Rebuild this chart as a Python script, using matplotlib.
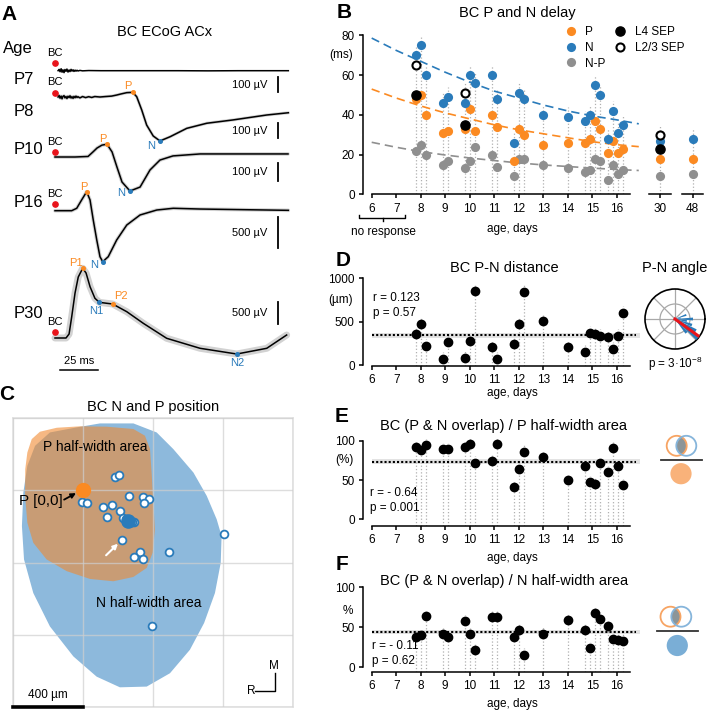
import numpy as np
import matplotlib
matplotlib.use('Agg')
import matplotlib.pyplot as plt
from matplotlib.patches import Polygon, Circle
from matplotlib.lines import Line2D

plt.rcParams['font.family'] = ['Liberation Sans', 'DejaVu Sans']
plt.rcParams['mathtext.fontset'] = 'custom'
plt.rcParams['mathtext.rm'] = 'Liberation Sans'
plt.rcParams['axes.linewidth'] = 1.1

# ------------------------------------------------------------------ data
# Panel A: averaged ECoG traces (time in ms after BC stimulus, voltage in uV)
p7_t = [2, 2.7, 3.3, 4.0, 4.6, 5.2, 5.9, 6.5, 7.2, 7.8, 8.5, 9.2, 9.8, 10.5, 11.1, 11.8,
        12.4, 13.1, 13.7, 14.4, 15.0, 16.3, 18, 22, 30, 40, 60, 80, 100, 120, 140, 152.5]
p7_v = [0, 9, -7, 13, -10, 6, -13, 8, -4, 11, -9, 5, -6, 9, -3, 6,
        -5, 4, -3, 3, -2, 2, -1, 1, 0, 0, 0, 0, -1, 0, 0, 0]
p8_t = [2, 2.7, 3.3, 4.0, 4.6, 5.2, 5.9, 6.5, 7.2, 7.8, 8.5, 9.2, 9.8, 10.5, 11.1, 11.8,
        12.4, 13.1, 13.7, 14.4, 15.0, 16.3, 18, 20, 22, 24, 26, 29.4, 33, 37, 40.3, 43,
        46.9, 50.8, 53.4, 56.7, 59.9, 64.2, 68.6, 75.2, 86.1, 99.2, 116.3, 138.4, 152.5]
p8_v = [0, 10, -8, 6, -12, 4, 9, -6, 3, -10, 5, -4, 8, -7, 2, -9,
        4, -5, 6, -3, 2, -6, 3, -4, 2, -3, 3, 0, 3, 6, 13, 20,
        29, 31, 2, -87, -187, -260, -293, -265, -209, -175, -153, -120, -105]
p10_t = [0, 13.1, 21.6, 24.8, 27.5, 30.7, 34, 37.3, 40.5, 43.8, 49, 55.6, 62.1, 68.6,
         77.1, 94.8, 120.9, 152.3]
p10_v = [0, 0, 3, 28, 50, 66, 71, 28, -56, -139, -189, -167, -72, -17, 6, 17, 17, 17]
p16_t = [0, 10.9, 14.2, 17.4, 20.7, 22.9, 25, 27.3, 29.4, 31.2, 34.8, 40.3, 46.9, 55.6,
         66.5, 77.3, 94.8, 152.5]
p16_v = [0, 0, 39, 173, 306, 173, -150, -473, -742, -823, -742, -473, -231, -69, 11, 39,
         27, 6]
p30_t = [0, 7.2, 9.2, 10.9, 13.1, 15.2, 18.1, 20.3, 22.9, 26.1, 29, 33.8, 37.7, 46.9,
         57.7, 73, 94.8, 118.8, 138.4, 151.4]
p30_v = [0, 0, 91, 477, 1023, 1386, 1584, 1477, 1166, 902, 811, 789, 773, 598, 334, -7,
         -234, -364, -234, 68]
trace_ages = ['P7', 'P8', 'P10', 'P16', 'P30']
trace_bars = ['100 µV', '100 µV', '100 µV', '500 µV', '500 µV']
trace_bar_uv = [100, 100, 100, 500, 500]
peaks_p8 = [('P', 50.8), ('N', 68.6)]
peaks_p10 = [('P', 34), ('N', 49)]
peaks_p16 = [('P', 20.7), ('N', 31.2)]
peaks_p30 = [('P1', 18.1), ('N1', 29), ('P2', 37.7), ('N2', 118.8)]

# Panel B: delays (ms) per recording
ages = [7.8, 8.0, 8.2, 8.9, 9.1, 9.8, 10.0, 10.2, 10.9, 11.1, 11.8, 12.0, 12.2, 13.0,
        14.0, 14.7, 14.9, 15.1, 15.3, 15.65, 15.85, 16.05, 16.25]
p_delay = [48, 50, 40, 31, 32, 33, 43, 32, 40, 34, 17, 33, 30, 25, 26, 26, 28, 37, 33,
           21, 27, 21, 23]
n_delay = [70, 75, 60, 46, 49, 46, 60, 56, 60, 48, 26, 51, 48, 40, 39, 37, 40, 55, 50,
           28, 42, 31, 35]
np_delay = [22, 25, 20, 15, 17, 13, 17, 24, 20, 14, 9, 18, 18, 15, 13, 11, 12, 18, 17,
            7, 15, 10, 12]
sep_ages = [7.8, 9.8]
l4_sep = [50, 35]
l23_sep = [65, 51]
adult_ages = [30, 48]
adult_p = [18, 18]
adult_n = [27, 28]
adult_np = [9, 10]
adult_l4 = [23, None]
adult_l23 = [30, None]
fit_x = [6, 7, 8, 9, 10, 11, 12, 13, 14, 15, 16, 16.9]
fit_n = [78.7, 72.5, 67, 61.5, 56.5, 52, 48.5, 45, 42, 39.5, 37.5, 35.5]
fit_p = [53, 48.5, 44.5, 41, 38, 35, 32.5, 30.5, 28.5, 26.5, 25, 24]
fit_np = [26.2, 23.7, 21.5, 19.8, 18.3, 17, 15.8, 14.8, 14, 13.2, 12.5, 12]

# Panel D
pn_distance = [354, 473, 223, 69, 269, 77, 277, 858, 204, 65, 238, 473, 846, 512, 204,
               146, 365, 354, 338, 319, 181, 338, 604]
dist_mean, dist_sem = 342, 32
angle_bins = [20, 10, 0, -10, -20, -30, -40, -50]
angle_counts = [2, 1, 3, 2, 3, 4, 5, 3]
angle_mean = -36

# Panels E, F
overlap_p = [92, 88, 94.5, 89, 89.5, 91.5, 96, 72, 74, 96, 41, 64.5, 86, 79, 50, 68, 47,
             44.5, 71, 60, 90.5, 68, 43.5]
overlap_n = [38, 40, 64, 41, 38, 57.5, 41, 21, 63, 63, 37.5, 46, 15.5, 42, 59, 47, 24, 68,
             61, 52, 35, 34, 33]
ovp_mean, ovp_sem = 73.3, 3
ovn_mean, ovn_sem = 44.2, 2.5

# Panel C: positions in um relative to P [0,0]
n_pos_x = [183, 208, -6, 21, 112, 166, 139, 211, 227, 265, 341, 375, 349, 293, 225, 326,
           293, 341, 493, 806, 396, 246, 278]
n_pos_y = [76, 85, -65, -72, -94, -80, -146, -115, -154, -30, -35, -46, -72, -176, -274,
           -341, -369, -378, -344, -244, -754, -161, -176]
n_mean = (259, -170)
p_area_x = [-293, -246, -150, -17, 135, 288, 354, 383, 392, 402, 411, 398, 364, 288, 173,
            40, -93, -208, -284, -318, -331, -330, -318]
p_area_y = [283, 324, 346, 354, 352, 339, 302, 228, 98, -69, -217, -346, -430, -480, -504,
            -491, -448, -383, -291, -180, -31, 117, 209]
n_area_x = [-36, 97, 288, 421, 516, 631, 707, 764, 792, 787, 754, 692, 611, 497, 364, 211,
            78, -55, -189, -284, -337, -349, -341, -318, -274, -189]
n_area_y = [348, 370, 370, 320, 228, 98, -31, -161, -254, -402, -569, -735, -883, -1013,
            -1087, -1091, -1032, -920, -754, -569, -383, -198, -13, 135, 246, 320]

# ------------------------------------------------------------------ style
W, H = 709, 713
fig = plt.figure(figsize=(W / 100, H / 100), dpi=100)

ORANGE = '#fb8a22'
BLUE = '#2a7bba'
GRAY = '#8f8f8f'
RED = '#e8141b'
VDOT = '#b0b0b0'
FS = 8.5
TFS = 10.5


def rect(x0, y0, x1, y1):
    return [x0 / W, 1 - y1 / H, (x1 - x0) / W, (y1 - y0) / H]


def ftext(x, y, s, **kw):
    kw.setdefault('ha', 'center')
    kw.setdefault('va', 'center')
    fig.text(x / W, 1 - y / H, s, **kw)


for lbl, x, y in [('A', 9, 14), ('B', 344, 12.5), ('C', 7, 394), ('D', 343, 260),
                  ('E', 342, 417), ('F', 342, 564)]:
    ftext(x, y, lbl, fontsize=15, fontweight='bold')

# ------------------------------------------------------------------ panel A
MS_PX, T0_PX = 1.53, 55
axA = fig.add_axes(rect(0, 40, 300, 380))
axA.set_xlim(-T0_PX / MS_PX, (300 - T0_PX) / MS_PX)
axA.set_ylim(380, 40)
axA.axis('off')

trace_t = [p7_t, p8_t, p10_t, p16_t, p30_t]
trace_v = [p7_v, p8_v, p10_v, p16_v, p30_v]
trace_peaks = [[], peaks_p8, peaks_p10, peaks_p16, peaks_p30]
base_px = [70.7, 97, 157, 210.7, 338]
gain = [0.15, 0.15, 0.18, 0.062, 0.044]
shade_lw = [0, 2.2, 2.6, 2.6, 5]
bc_dot_px = [63.3, 93.3, 152.3, 204, 332]
bc_txt_px = [53, 82, 142, 194, 322]
age_txt_px = [79, 112, 150, 202, 313]
bar_top_px = [77, 123, 163, 217, 302]
peak_offsets_by = [None, {'P': (-5, -6), 'N': (-9, 5)}, {'P': (-4, -5), 'N': (-9, 2)},
                   {'P': (-3, -5), 'N': (-9, 3)},
                   {'P1': (-7, -5), 'N1': (-3, 9), 'P2': (8, -8), 'N2': (0, 9)}]
bar_t = (278 - T0_PX) / MS_PX

ftext(165, 32, 'BC ECoG ACx', fontsize=TFS)
ftext(3, 49, 'Age', fontsize=12, ha='left')
for i in range(5):
    t = np.array(trace_t[i], float)
    y = base_px[i] - gain[i] * np.array(trace_v[i], float)
    if shade_lw[i]:
        axA.plot(t, y, color='#d2d2d2', lw=shade_lw[i], solid_capstyle='round', zorder=1)
    axA.plot(t, y, color='black', lw=1.1, zorder=2)
    axA.plot(0, bc_dot_px[i], 'o', color=RED, ms=3.8, zorder=3)
    axA.text(0, bc_txt_px[i], 'BC', fontsize=8, ha='center', va='center')
    ftext(14, age_txt_px[i], trace_ages[i], fontsize=12, ha='left')
    blen = gain[i] * trace_bar_uv[i]
    axA.plot([bar_t, bar_t], [bar_top_px[i], bar_top_px[i] + blen], color='black', lw=1.3)
    axA.text(bar_t - 7, bar_top_px[i] + blen / 2, trace_bars[i], fontsize=8,
             ha='right', va='center')
    for lbl, tp in trace_peaks[i]:
        vp = np.interp(tp, t, np.array(trace_v[i], float))
        yp = base_px[i] - gain[i] * vp
        col = ORANGE if lbl.startswith('P') else BLUE
        axA.plot(tp, yp, 'o', color=col, ms=2.6, zorder=4)
        dx, dy = peak_offsets_by[i][lbl]
        axA.annotate(lbl, xy=(tp, yp), xytext=(dx * 0.72, -dy * 0.72),
                     textcoords='offset points', ha='center', va='center',
                     color=col, fontsize=8)
axA.plot([(60 - T0_PX) / MS_PX, (60 - T0_PX) / MS_PX + 25], [370, 370], color='black', lw=1.1)
axA.text((60 - T0_PX) / MS_PX + 12.5, 361, '25 ms', fontsize=8, ha='center', va='center')

# ------------------------------------------------------------------ panel B
XL = (5.645, 16.95)
B_PXU = 1.985


def age_axis(ax, yb, yt, ylo, yhi):
    ax.set_xlim(XL)
    ax.set_ylim(ylo, yhi)
    ax.patch.set_alpha(0)
    for s in ('top', 'right'):
        ax.spines[s].set_visible(False)
    ax.spines['left'].set_bounds(yb, yt)
    ax.spines['bottom'].set_bounds(6, 16.55)
    ax.set_xticks(range(6, 17))
    ax.tick_params(direction='out', length=3, width=1.1, labelsize=FS, pad=3)


axB = fig.add_axes(rect(363, 26, 640, 194.3))
age_axis(axB, 0, 80, 0, 168.3 / B_PXU)
axB.set_yticks([0, 20, 40, 60, 80])
axB.text(5.25, 70, '(ms)', fontsize=FS, ha='right', va='center')
ftext(517, 13, 'BC P and N delay', fontsize=TFS)
for i, a in enumerate(ages):
    top = max(p_delay[i], n_delay[i]) + 5
    if a in sep_ages:
        top = max(top, l23_sep[sep_ages.index(a)] + 5)
    axB.plot([a, a], [0, top], ls=':', color=VDOT, lw=0.9, zorder=1)
axB.plot(fit_x, fit_n, ls=(0, (5, 3)), color=BLUE, lw=1.2, clip_on=False, zorder=2)
axB.plot(fit_x, fit_p, ls=(0, (5, 3)), color=ORANGE, lw=1.2, clip_on=False, zorder=2)
axB.plot(fit_x, fit_np, ls=(0, (5, 3)), color=GRAY, lw=1.2, clip_on=False, zorder=2)
MSZ = 6.6
axB.plot(ages, np_delay, 'o', color=GRAY, ms=MSZ, mec='none', zorder=3)
axB.plot(ages, p_delay, 'o', color=ORANGE, ms=MSZ, mec='none', zorder=3)
axB.plot(ages, n_delay, 'o', color=BLUE, ms=MSZ, mec='none', zorder=3)
axB.plot(sep_ages, l4_sep, 'o', color='black', ms=MSZ, zorder=4)
axB.plot(sep_ages, l23_sep, 'o', mfc='white', mec='black', mew=1.5, ms=MSZ - 0.8, zorder=4)
# no-response bracket
axB.plot([5.48, 5.48, 7.36, 7.36], [-10.4, -12.1, -12.1, -10.4], color='black', lw=1.0,
         clip_on=False)
axB.plot([6.45, 6.45], [-12.1, -13.5], color='black', lw=1.0, clip_on=False)
axB.text(6.47, -19, 'no response', fontsize=FS, ha='center', va='center')
axB.text(11.73, -17.5, 'age, days', fontsize=FS, ha='center', va='center')
handles = [Line2D([], [], ls='none', marker='o', color=ORANGE, ms=MSZ, mec='none'),
           Line2D([], [], ls='none', marker='o', color=BLUE, ms=MSZ, mec='none'),
           Line2D([], [], ls='none', marker='o', color=GRAY, ms=MSZ, mec='none'),
           Line2D([], [], ls='none', marker='o', color='black', ms=MSZ),
           Line2D([], [], ls='none', marker='o', mfc='white', mec='black', mew=1.5, ms=MSZ - 0.8)]
axB.legend(handles, ['P', 'N', 'N-P', 'L4 SEP', 'L2/3 SEP'], ncol=2, frameon=False,
           fontsize=FS, loc='upper left', bbox_to_anchor=(567 / W, 1 - 26 / H),
           bbox_transform=fig.transFigure, handletextpad=0.9, columnspacing=1.0,
           labelspacing=0.32, handlelength=0.6, borderpad=0, borderaxespad=0)

for j, (a, x0, x1) in enumerate([(30, 649, 671), (48, 682, 703)]):
    half = (x1 - x0) / 2 / 24.5
    ax = fig.add_axes(rect(x0, 26, x1, 194.3))
    ax.set_xlim(a - half, a + half)
    ax.set_ylim(0, 168.3 / B_PXU)
    ax.patch.set_alpha(0)
    for s in ('top', 'right', 'left'):
        ax.spines[s].set_visible(False)
    ax.set_yticks([])
    ax.set_xticks([a])
    ax.tick_params(direction='out', length=3, width=1.1, labelsize=FS, pad=3)
    vals = [adult_p[j], adult_n[j], adult_np[j]] + [v for v in (adult_l4[j], adult_l23[j]) if v]
    ax.plot([a, a], [0, max(vals) + 5], ls=':', color=VDOT, lw=0.9, zorder=1)
    ax.plot(a, adult_np[j], 'o', color=GRAY, ms=MSZ, mec='none')
    ax.plot(a, adult_p[j], 'o', color=ORANGE, ms=MSZ, mec='none')
    ax.plot(a, adult_n[j], 'o', color=BLUE, ms=MSZ, mec='none')
    if adult_l4[j]:
        ax.plot(a, adult_l4[j], 'o', color='black', ms=MSZ)
    if adult_l23[j]:
        ax.plot(a, adult_l23[j], 'o', mfc='white', mec='black', mew=1.5, ms=MSZ - 0.8)


# ------------------------------------------------------------------ panels D, E, F
def scatter_panel(y0px, y1px, ylo, yhi, vals, mean, sem, yticks, unit, unit_y, title,
                  title_y, stats, stats_px, vext, xlab_px):
    ax = fig.add_axes(rect(363, y0px, 640, y1px))
    age_axis(ax, yticks[0], yticks[-1], ylo, yhi)
    ax.set_yticks(yticks)
    ax.text(5.25, unit_y, unit, fontsize=FS, ha='right', va='center')
    ax.axhspan(mean - sem, mean + sem, xmin=(6 - XL[0]) / (XL[1] - XL[0]), xmax=1.0,
               color='#e3e3e3', lw=0, zorder=0)
    ax.plot([6, 16.8], [mean, mean], ls=(0, (1, 1)), color='black', lw=1.5, zorder=2,
            clip_on=False)
    for a, v in zip(ages, vals):
        ax.plot([a, a], [ylo, v + vext], ls=':', color=VDOT, lw=0.9, zorder=1)
    ax.plot(ages, vals, 'o', color='black', ms=6, zorder=3)
    ftext(504, title_y, title, fontsize=TFS)
    ftext(stats_px[0], stats_px[1], stats[0], fontsize=FS, ha='left')
    ftext(stats_px[0], stats_px[1] + 15, stats[1], fontsize=FS, ha='left')
    ftext(512, xlab_px, 'age, days', fontsize=FS)
    return ax


axD = scatter_panel(270, 366, -11.5, 1096, pn_distance, dist_mean, dist_sem,
                    [0, 500, 1000], '(µm)', 750, 'BC P-N distance', 268,
                    ('r = 0.123', 'p = 0.57'), (373, 298), 80, 393)
axE = scatter_panel(430, 525.7, -8.1, 113.6, overlap_p, ovp_mean, ovp_sem,
                    [0, 50, 100], '(%)', 75, 'BC (P & N overlap) / P half-width area', 426,
                    ('r = - 0.64', 'p = 0.001'), (370, 493), 8, 558)
axF = scatter_panel(577, 672, -5.9, 112.9, overlap_n, ovn_mean, ovn_sem,
                    [0, 50, 100], '%', 71, 'BC (P & N overlap) / N half-width area', 581,
                    ('r = - 0.11', 'p = 0.62'), (372, 646), 8, 704)

# polar P-N angle
axP = fig.add_axes(rect(645, 289, 705, 349), projection='polar')
axP.set_ylim(0, 5)
axP.set_yticks([2.5])
axP.set_yticklabels([])
axP.set_xticks(np.deg2rad(np.arange(0, 360, 45)))
axP.set_xticklabels([])
axP.grid(color='#a8a8a8', lw=0.9)
axP.set_axisbelow(True)
axP.bar(np.deg2rad(angle_bins), angle_counts, width=np.deg2rad(9), color=BLUE,
        edgecolor='none', zorder=3)
axP.plot([np.deg2rad(angle_mean)] * 2, [0, 5], color=RED, lw=2.2, zorder=4)
axP.spines['polar'].set_linewidth(1.2)
ftext(675, 268, 'P-N angle', fontsize=TFS)
ftext(675, 364, r'p = 3·10$^{-8}$', fontsize=FS)


# Venn icons
def venn_icon(x0, y0, x1, y1, c_or, c_bl, r, line_y, line_x, fill_c, fill_col):
    ax = fig.add_axes(rect(x0, y0, x1, y1))
    ax.set_xlim(x0, x1)
    ax.set_ylim(y1, y0)
    ax.axis('off')
    clip = Circle(c_bl, r, transform=ax.transData)
    lens = Circle(c_or, r, fc='#8c9598', ec='none')
    ax.add_patch(lens)
    lens.set_clip_path(clip)
    ax.add_patch(Circle(c_or, r, fill=False, ec='#f7a463', lw=1.3))
    ax.add_patch(Circle(c_bl, r, fill=False, ec='#86b5db', lw=1.3))
    ax.plot(line_x, [line_y, line_y], color='#333333', lw=1.3)
    ax.add_patch(Circle(fill_c, r + 0.6, fc=fill_col, ec='none'))


venn_icon(655, 430, 708, 490, (676.7, 445.8), (686.3, 445.8), 10, 460, [661, 702],
          (681, 473.7), '#f9b27a')
venn_icon(650, 598, 708, 660, (670.5, 616.7), (681.3, 616.7), 10, 631, [657, 698],
          (677.3, 645.5), '#7aaed6')

# ------------------------------------------------------------------ panel C
axC = fig.add_axes(rect(13, 418, 293, 707))
axC.set_xlim(-400, 1200)
axC.set_ylim(-1200, 400)
axC.set_xticks([-400, 0, 400, 800, 1200])
axC.set_yticks([-1200, -800, -400, 0, 400])
axC.tick_params(length=0, labelbottom=False, labelleft=False)
axC.grid(color='#cfcfcf', lw=1.0, alpha=0.7, zorder=5)
axC.set_axisbelow(False)
for s in axC.spines.values():
    s.set_color('#dddddd')
axC.add_patch(Polygon(np.column_stack([n_area_x, n_area_y]), closed=True, fc='#8db9dc',
                      ec='none', zorder=1))
axC.add_patch(Polygon(np.column_stack([p_area_x, p_area_y]), closed=True, fc='#f08a30',
                      ec='none', alpha=0.6, zorder=2))
axC.plot(n_pos_x, n_pos_y, 'o', mfc='white', mec=BLUE, mew=1.3, ms=5.6, zorder=7)
axC.plot(*n_mean, 'o', color=BLUE, ms=9.5, zorder=8)
axC.plot(0, 0, 'o', color=ORANGE, ms=10, zorder=8)
axC.annotate('', xy=(-40, -16), xytext=(-108, -52),
             arrowprops=dict(arrowstyle='-|>', color='black', lw=1.3, mutation_scale=7,
                             shrinkA=0, shrinkB=0),
             zorder=9)
axC.text(-118, -62, 'P [0,0]', fontsize=11, ha='right', va='center', zorder=9)
axC.annotate('', xy=(200, -296), xytext=(132, -360),
             arrowprops=dict(arrowstyle='-|>', color='white', lw=1.5, mutation_scale=7,
                             shrinkA=0, shrinkB=0),
             zorder=9)
axC.text(-227, 237, 'P half-width area', fontsize=10, ha='left', va='center', zorder=9)
axC.text(72, -624, 'N half-width area', fontsize=10, ha='left', va='center', zorder=9)
axC.plot([-400, 0], [-1200, -1200], color='black', lw=2.6, clip_on=False, zorder=9)
axC.text(-200, -1133, '400 µm', fontsize=8.5, ha='center', va='center')
axC.plot([983, 1097, 1097], [-1111, -1111, -1013], color='black', lw=1.0, zorder=9)
axC.text(1092, -975, 'M', fontsize=8.5, ha='center', va='center')
axC.text(962, -1113, 'R', fontsize=8.5, ha='center', va='center')
ftext(153, 407, 'BC N and P position', fontsize=TFS)

fig.savefig('out.png', dpi=100)
